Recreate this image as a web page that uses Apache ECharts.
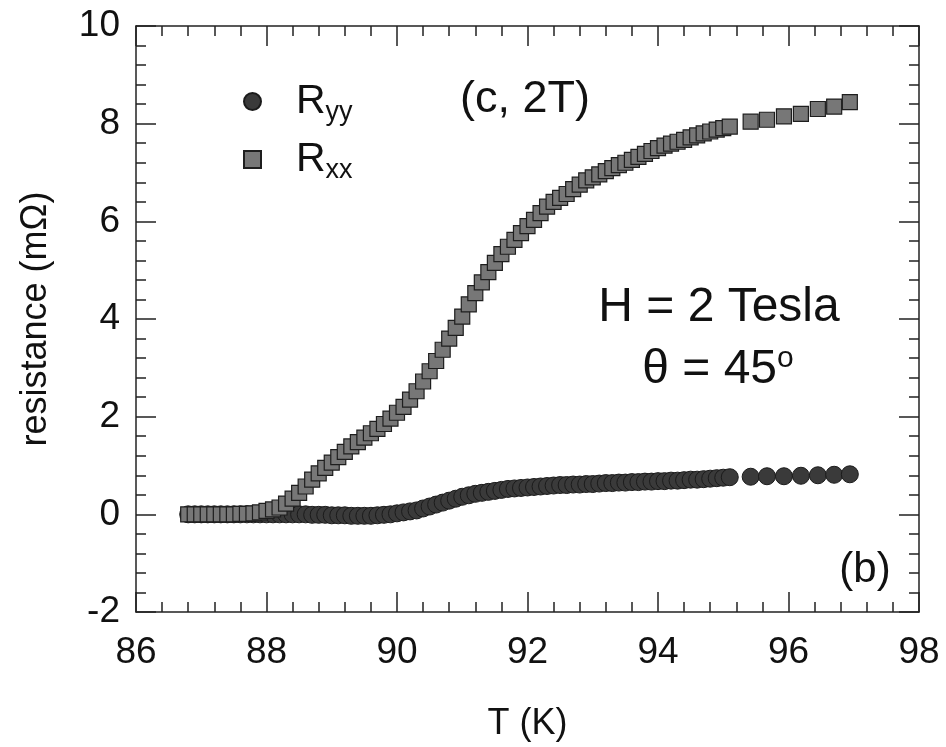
<!DOCTYPE html>
<html>
<head>
<meta charset="utf-8">
<script src="https://cdn.jsdelivr.net/npm/echarts@6/dist/echarts.min.js"></script>
<style>
  html, body { margin: 0; padding: 0; background: #fff; }
  #chart { width: 946px; height: 747px; }
</style>
</head>
<body>
<div id="chart"></div>
<script>
// temperature grid of the dense part of the sweep (K)
const tDense = [
  86.8, 86.9, 87.0, 87.1, 87.2, 87.3, 87.4, 87.5, 87.6, 87.7,
  87.8, 87.9, 88.0, 88.1, 88.2, 88.3, 88.4, 88.5, 88.6, 88.7,
  88.8, 88.9, 89.0, 89.1, 89.2, 89.3, 89.4, 89.5, 89.6, 89.7,
  89.8, 89.9, 90.0, 90.1, 90.2, 90.3, 90.4, 90.5, 90.6, 90.7,
  90.8, 90.9, 91.0, 91.1, 91.2, 91.3, 91.4, 91.5, 91.6, 91.7,
  91.8, 91.9, 92.0, 92.1, 92.2, 92.3, 92.4, 92.5, 92.6, 92.7,
  92.8, 92.9, 93.0, 93.1, 93.2, 93.3, 93.4, 93.5, 93.6, 93.7,
  93.8, 93.9, 94.0, 94.1, 94.2, 94.3, 94.4, 94.5, 94.6, 94.7,
  94.8, 94.9, 95.0, 95.1
];
// R_yy (mOhm) on that grid
const ryyDense = [
  0, 0, 0, 0, 0, 0, 0, 0, 0, 0,
  0, 0, 0, 0, 0, 0, 0, 0, 0, -0.01,
  -0.01, -0.01, -0.02, -0.02, -0.02, -0.03, -0.03, -0.03, -0.03, -0.02,
  -0.01, 0.0, 0.02, 0.04, 0.06, 0.08, 0.12, 0.16, 0.2, 0.24,
  0.28, 0.32, 0.36, 0.39, 0.42, 0.44, 0.46, 0.48, 0.5, 0.52,
  0.53, 0.54, 0.55, 0.56, 0.57, 0.58, 0.59, 0.6, 0.6, 0.61,
  0.61, 0.62, 0.62, 0.63, 0.64, 0.64, 0.65, 0.65, 0.66, 0.66,
  0.67, 0.67, 0.68, 0.68, 0.69, 0.69, 0.7, 0.71, 0.71, 0.72,
  0.73, 0.74, 0.75, 0.76
];
// R_xx (mOhm) on that grid
const rxxDense = [
  0, 0, 0, 0, 0, 0, 0, 0, 0.01, 0.01,
  0.02, 0.04, 0.07, 0.1, 0.14, 0.22, 0.32, 0.44, 0.57, 0.71,
  0.84, 0.95, 1.06, 1.17, 1.28, 1.39, 1.48, 1.57, 1.66, 1.75,
  1.85, 1.96, 2.08, 2.2, 2.35, 2.52, 2.72, 2.93, 3.14, 3.37,
  3.6, 3.82, 4.05, 4.3, 4.53, 4.75, 4.96, 5.15, 5.33, 5.48,
  5.62, 5.76, 5.9, 6.03, 6.17, 6.3, 6.4, 6.48, 6.56, 6.66,
  6.75, 6.84, 6.9, 6.96, 7.03, 7.09, 7.15, 7.2, 7.26, 7.32,
  7.38, 7.44, 7.5, 7.55, 7.59, 7.63, 7.67, 7.72, 7.76, 7.8,
  7.84, 7.88, 7.91, 7.94
];
// sparse points at the high-T end
const tSparse = [95.42, 95.67, 95.93, 96.19, 96.45, 96.7, 96.94];
const ryySparse = [0.77, 0.78, 0.78, 0.79, 0.8, 0.81, 0.82];
const rxxSparse = [8.04, 8.08, 8.15, 8.2, 8.3, 8.35, 8.44];

const xTicks = [86, 88, 90, 92, 94, 96, 98];
const yTicks = [-2, 0, 2, 4, 6, 8, 10];

const pair = (ts, vs) => ts.map((t, i) => [t, vs[i]]);
const ryyData = pair(tDense, ryyDense).concat(pair(tSparse, ryySparse));
const rxxData = pair(tDense, rxxDense).concat(pair(tSparse, rxxSparse));

const FONT = 'Liberation Sans, Arial, Helvetica, sans-serif';
const INK = '#111';
const lineStyle = {color: '#222', width: 1.5};

const baseAxis = (min, max, interval) => ({
  type: 'value', min, max, interval,
  axisLine: {onZero: false, lineStyle},
  axisTick: {inside: true, length: 20, lineStyle},
  minorTick: {show: true, splitNumber: 5, length: 10, lineStyle},
  splitLine: {show: false},
  minorSplitLine: {show: false}
});

const chart = echarts.init(document.getElementById('chart'));
chart.setOption({
  animation: false,
  backgroundColor: '#fff',
  textStyle: {fontFamily: FONT},
  grid: {left: 136, right: 27, top: 26, bottom: 130},
  legend: {
    orient: 'vertical',
    left: 238, top: 72,
    itemWidth: 17, itemHeight: 17,
    itemGap: 9,
    data: ['Ryy', 'Rxx'],
    formatter: n => n === 'Ryy' ? 'R{sub|yy}' : 'R{sub|xx}',
    textStyle: {
      fontFamily: FONT, fontSize: 41, color: INK, lineHeight: 40,
      padding: [0, 0, 0, 30],
      rich: {sub: {fontFamily: FONT, fontSize: 27, color: INK, lineHeight: 40, padding: [22, 0, 0, 0]}}
    }
  },
  xAxis: [
    Object.assign(baseAxis(xTicks[0], xTicks[xTicks.length - 1], 2), {
      position: 'bottom',
      name: 'T (K)', nameLocation: 'middle', nameGap: 94,
      nameTextStyle: {fontSize: 36, color: INK, fontFamily: FONT},
      axisLabel: {fontSize: 37, color: INK, margin: 22, fontFamily: FONT}
    }),
    Object.assign(baseAxis(xTicks[0], xTicks[xTicks.length - 1], 2), {
      position: 'top', axisLabel: {show: false}
    })
  ],
  yAxis: [
    Object.assign(baseAxis(yTicks[0], yTicks[yTicks.length - 1], 2), {
      position: 'left',
      name: 'resistance (m\u03a9)', nameLocation: 'middle', nameGap: 82,
      nameTextStyle: {fontSize: 36, color: INK, fontFamily: FONT},
      axisLabel: {fontSize: 37, color: INK, margin: 16, fontFamily: FONT}
    }),
    Object.assign(baseAxis(yTicks[0], yTicks[yTicks.length - 1], 2), {
      position: 'right', axisLabel: {show: false}
    })
  ],
  series: [
    {
      name: 'Ryy', type: 'scatter', symbol: 'circle', symbolSize: 17,
      itemStyle: {color: '#3a3a3a', borderColor: '#1b1b1b', borderWidth: 1, opacity: 1},
      data: ryyData
    },
    {
      name: 'Rxx', type: 'scatter', symbol: 'rect', symbolSize: 15,
      itemStyle: {color: '#777', borderColor: '#1e1e1e', borderWidth: 1.2, opacity: 1},
      data: rxxData
    }
  ],
  graphic: [
    {type: 'text', x: 525, y: 100, style: {text: '(c, 2T)', font: '45px ' + FONT, fill: INK, align: 'center', verticalAlign: 'middle'}},
    {type: 'text', x: 719, y: 308, style: {text: 'H = 2 Tesla', font: '48px ' + FONT, fill: INK, align: 'center', verticalAlign: 'middle'}},
    {type: 'text', x: 718, y: 370, style: {
      text: '\u03b8 = 45{sup|o}', font: '48px ' + FONT, fill: INK, align: 'center', verticalAlign: 'middle',
      rich: {sup: {font: '30px ' + FONT, fill: INK, padding: [0, 0, 22, 0]}}
    }},
    {type: 'text', x: 865, y: 570, style: {text: '(b)', font: '42px ' + FONT, fill: INK, align: 'center', verticalAlign: 'middle'}}
  ]
});
</script>
</body>
</html>
